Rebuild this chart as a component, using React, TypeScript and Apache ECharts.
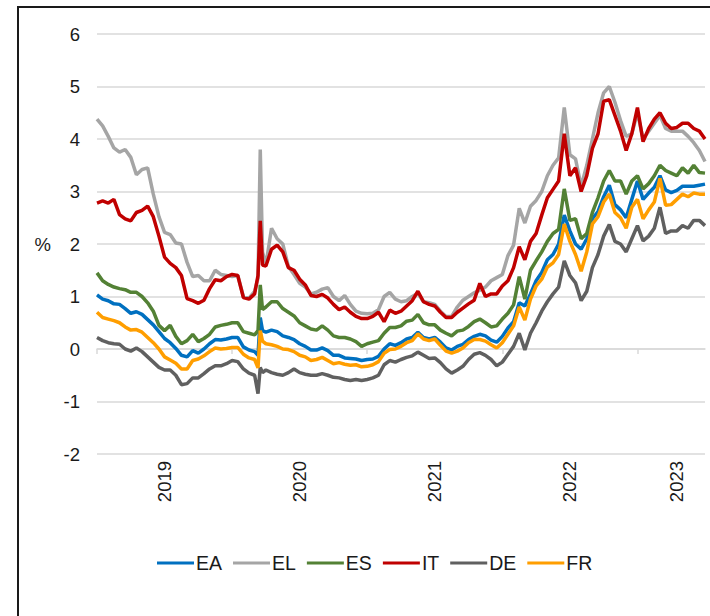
import React, { useEffect, useRef } from "react";
import * as echarts from "echarts";

// x positions: months since 1 Jan 2019 (half-month steps, extra points around the March 2020 spike)
const months: number[] = [
  ...Array.from({ length: 29 }, (_, i) => i / 2),
  14.3, 14.5, 14.7,
  ...Array.from({ length: 79 }, (_, i) => 15 + i / 2),
];

const seriesNames = ["EA", "EL", "ES", "IT", "DE", "FR"];
const seriesColors = ["#0070C0", "#A5A5A5", "#538135", "#C00000", "#606060", "#FF9E00"];

const EA = [
  1.03, 0.95, 0.92, 0.86, 0.85, 0.77, 0.68, 0.71, 0.66, 0.56,
  0.46, 0.33, 0.2, 0.12, 0.01, -0.12, -0.15, -0.03, -0.08, 0.0,
  0.1, 0.18, 0.17, 0.19, 0.22, 0.22, 0.04, -0.02, -0.05,
  -0.12, 0.6, 0.35,
  0.32, 0.36, 0.33, 0.25, 0.22, 0.18, 0.1, 0.05, -0.02, -0.02,
  0.02, -0.03, -0.12, -0.12, -0.17, -0.18, -0.19, -0.22, -0.2, -0.19,
  -0.14, 0.0, 0.1, 0.07, 0.12, 0.19, 0.22, 0.32, 0.22, 0.19,
  0.22, 0.13, 0.02, -0.02, 0.05, 0.09, 0.18, 0.24, 0.28, 0.25,
  0.17, 0.13, 0.24, 0.4, 0.52, 0.88, 0.82, 1.05, 1.3, 1.46,
  1.7, 1.8, 2.0, 2.55, 2.25, 2.0, 1.9, 2.1, 2.48, 2.62,
  2.9, 3.12, 2.75, 2.65, 2.5, 2.85, 3.2, 2.85, 2.97, 3.08,
  3.3, 3.03, 2.98, 3.02, 3.1, 3.1, 3.1, 3.12, 3.14,
];

const EL = [
  4.38, 4.25, 4.05, 3.83, 3.75, 3.8, 3.65, 3.32, 3.42, 3.45,
  2.95, 2.52, 2.22, 2.18, 2.02, 2.0, 1.65, 1.38, 1.4, 1.3,
  1.3, 1.5, 1.42, 1.4, 1.38, 1.4, 1.0, 0.97, 1.1,
  1.35, 3.8, 1.85,
  1.6, 2.3, 2.1, 2.0, 1.57, 1.42, 1.25, 1.18, 1.05, 1.08,
  1.14, 1.17, 1.0, 0.92, 1.02, 0.85, 0.72, 0.68, 0.67, 0.68,
  0.75, 1.0, 1.08, 0.95, 0.9, 0.92, 1.0, 1.06, 0.9, 0.88,
  0.85, 0.72, 0.62, 0.62, 0.8, 0.93, 1.0, 1.07, 1.12, 1.18,
  1.3, 1.36, 1.42, 1.78, 1.98, 2.68, 2.4, 2.72, 2.83, 3.0,
  3.3, 3.5, 3.64, 4.6, 3.7, 3.62, 3.1, 3.5, 4.0, 4.5,
  4.88, 5.0, 4.7, 4.35, 4.05, 4.1, 4.5, 4.0, 4.15, 4.3,
  4.45, 4.2, 4.15, 4.15, 4.15, 4.05, 3.93, 3.78, 3.57,
];

const ES = [
  1.45, 1.3, 1.23, 1.18, 1.15, 1.13, 1.08, 1.08, 1.0, 0.88,
  0.72, 0.45, 0.35, 0.45, 0.24, 0.1, 0.16, 0.28, 0.14, 0.2,
  0.28, 0.42, 0.45, 0.47, 0.5, 0.5, 0.33, 0.3, 0.27,
  0.35, 1.22, 0.75,
  0.8, 0.9, 0.9, 0.77, 0.7, 0.63, 0.5, 0.44, 0.38, 0.36,
  0.44, 0.36, 0.25, 0.22, 0.22, 0.19, 0.14, 0.05, 0.1, 0.13,
  0.16, 0.3, 0.41, 0.41, 0.44, 0.53, 0.55, 0.66, 0.5, 0.46,
  0.46, 0.36, 0.3, 0.25, 0.34, 0.36, 0.43, 0.52, 0.57, 0.5,
  0.42, 0.44, 0.57, 0.68, 0.84, 1.38, 0.95, 1.5, 1.68, 1.85,
  2.05, 2.2, 2.28, 3.05, 2.45, 2.48, 2.1, 2.2, 2.6, 2.88,
  3.2, 3.4, 3.2, 3.2, 2.95, 3.2, 3.3, 3.05, 3.15, 3.3,
  3.5, 3.4, 3.35, 3.3, 3.45, 3.35, 3.5, 3.36, 3.35,
];

const IT = [
  2.78, 2.82, 2.78, 2.85, 2.56, 2.48, 2.44, 2.6, 2.64, 2.72,
  2.52, 2.15, 1.75, 1.63, 1.55, 1.4, 0.96, 0.92, 0.87, 0.93,
  1.15, 1.32, 1.3, 1.38, 1.42, 1.4, 0.98, 0.95, 1.05,
  1.4, 2.44, 1.6,
  1.58, 1.9, 1.98, 1.85, 1.55, 1.5, 1.33, 1.22, 1.02, 1.0,
  1.04, 0.97, 0.85, 0.75, 0.8, 0.7, 0.62, 0.58, 0.58, 0.62,
  0.7, 0.52, 0.74, 0.68, 0.72, 0.82, 0.92, 1.1, 0.9, 0.85,
  0.82, 0.7, 0.6, 0.6, 0.7, 0.78, 0.86, 0.93, 1.25, 1.0,
  1.05, 1.05, 1.2, 1.3, 1.55, 1.95, 1.7, 2.05, 2.2, 2.55,
  2.88, 3.04, 3.2, 4.1, 3.3, 3.45, 3.0, 3.3, 3.82, 4.1,
  4.72, 4.75, 4.45, 4.15, 3.78, 4.1, 4.6, 3.95, 4.2, 4.38,
  4.5, 4.3, 4.2, 4.22, 4.3, 4.3, 4.2, 4.15, 4.0,
];

const DE = [
  0.22, 0.16, 0.12, 0.1, 0.09, 0.0, -0.04, 0.02, -0.05, -0.15,
  -0.25, -0.35, -0.4, -0.4, -0.5, -0.68, -0.66, -0.55, -0.55, -0.47,
  -0.38, -0.32, -0.32, -0.28, -0.22, -0.24, -0.38, -0.46, -0.5,
  -0.85, -0.35, -0.45,
  -0.4, -0.45, -0.48, -0.5, -0.45, -0.38, -0.45, -0.48, -0.5, -0.5,
  -0.47, -0.5, -0.54, -0.55, -0.58, -0.6, -0.58, -0.6, -0.58, -0.55,
  -0.5, -0.3, -0.22, -0.25, -0.2, -0.16, -0.13, -0.06, -0.12, -0.18,
  -0.17, -0.26, -0.38, -0.46, -0.4, -0.33, -0.2, -0.1, -0.07, -0.12,
  -0.2, -0.32, -0.25, -0.1, 0.05, 0.3, -0.02, 0.3, 0.5, 0.72,
  0.9, 1.05, 1.18, 1.68, 1.4, 1.26, 0.92, 1.1, 1.55, 1.8,
  2.15, 2.37, 2.05, 2.0, 1.85, 2.1, 2.35, 2.06, 2.15, 2.3,
  2.7, 2.2, 2.25, 2.25, 2.35, 2.3, 2.45, 2.45, 2.35,
];

const FR = [
  0.7, 0.6, 0.57, 0.54, 0.5, 0.42, 0.36, 0.37, 0.32, 0.22,
  0.12, 0.0, -0.15, -0.21, -0.27, -0.38, -0.38, -0.22, -0.19, -0.13,
  -0.05, 0.02, 0.0, 0.01, 0.03, 0.03, -0.1, -0.17, -0.2,
  -0.36, 0.35, 0.15,
  0.1, 0.08, 0.05, 0.0, -0.01, -0.05, -0.12, -0.15, -0.22, -0.2,
  -0.16, -0.22, -0.28, -0.26, -0.29, -0.31, -0.3, -0.34, -0.33, -0.3,
  -0.24, -0.08, -0.01, 0.0, 0.05, 0.12, 0.16, 0.29, 0.19, 0.16,
  0.19, 0.07, -0.04, -0.08, -0.04, 0.02, 0.12, 0.18, 0.18, 0.15,
  0.08, 0.02, 0.12, 0.28, 0.44, 0.8, 0.55, 0.95, 1.2, 1.33,
  1.56, 1.64, 1.8, 2.38, 2.05, 1.8, 1.48, 1.85, 2.38, 2.52,
  2.8, 2.95, 2.6, 2.5, 2.3, 2.7, 2.85, 2.48, 2.65, 2.8,
  3.25, 2.74, 2.75, 2.85, 2.95, 2.9, 2.97, 2.95, 2.95,
];

const seriesValues = [EA, EL, ES, IT, DE, FR];

// year boundaries (ticks) and year label positions, in months since Jan 2019
const yearTicks = [0, 12, 24, 36, 48];
const yearLabelPos = [6, 18, 30, 42, 51.5];
const yTicks = { min: -2, max: 6, interval: 1 };

const FONT = "'Liberation Sans', Arial, sans-serif";

export default function App() {
  const ref = useRef<HTMLDivElement>(null);
  useEffect(() => {
    if (!ref.current) return;
    const chart = echarts.init(ref.current, null, { renderer: "svg" });
    const gridColor = "#D9D9D9";
    const baseX = { type: "value", min: 0, max: 54, splitLine: { show: false } };
    chart.setOption({
      animation: false,
      textStyle: { fontFamily: FONT },
      grid: { left: 97, right: 5, top: 34, bottom: 162, containLabel: false },
      legend: {
        data: seriesNames,
        left: 152,
        top: 548,
        icon: "rect",
        itemWidth: 37,
        itemHeight: 3,
        itemGap: 11,
        textStyle: { fontSize: 19.5, color: "#1a1a1a", fontFamily: FONT, padding: [0, 0, 0, -3] },
      },
      xAxis: [
        {
          ...baseX,
          position: "bottom",
          axisLine: { show: false, onZero: false },
          axisTick: { show: false },
          axisLabel: {
            customValues: yearLabelPos,
            rotate: 90,
            margin: 7,
            fontSize: 18.5,
            color: "#1a1a1a",
            fontFamily: FONT,
            formatter: (v: number) => String(2019 + Math.floor(v / 12)),
          },
        },
        {
          ...baseX,
          position: "bottom",
          axisLine: { show: true, onZero: true, lineStyle: { color: gridColor, width: 1.5 } },
          axisTick: { show: true, customValues: yearTicks, length: 5, lineStyle: { color: gridColor, width: 1.5 } },
          axisLabel: { show: false },
        },
      ],
      yAxis: {
        type: "value",
        min: yTicks.min,
        max: yTicks.max,
        interval: yTicks.interval,
        name: "%",
        nameLocation: "middle",
        nameRotate: 0,
        nameGap: 46,
        nameTextStyle: { fontSize: 18.5, color: "#1a1a1a", fontFamily: FONT },
        axisLine: { show: false },
        axisTick: { show: false },
        axisLabel: { fontSize: 18.5, color: "#1a1a1a", margin: 17, fontFamily: FONT },
        splitLine: { lineStyle: { color: gridColor, width: 1.5 } },
      },
      series: seriesNames.map((name, si) => ({
        name,
        type: "line",
        xAxisIndex: 0,
        showSymbol: false,
        symbol: "none",
        color: seriesColors[si],
        lineStyle: { width: 3.5, color: seriesColors[si] },
        data: months.map((m, i) => [m, seriesValues[si][i]]),
      })),
    });
    return () => chart.dispose();
  }, []);

  return (
    <div style={{ position: "fixed", left: 0, top: 0, width: 710, height: 616, overflow: "hidden", background: "#fff" }}>
      <div ref={ref} style={{ position: "absolute", left: 0, top: 0, width: 710, height: 616 }} />
      <div
        style={{
          position: "absolute",
          left: 17,
          top: 6,
          width: 720,
          height: 640,
          borderLeft: "2px solid #1a1a1a",
          borderTop: "2px solid #1a1a1a",
          boxSizing: "border-box",
          pointerEvents: "none",
        }}
      />
    </div>
  );
}
